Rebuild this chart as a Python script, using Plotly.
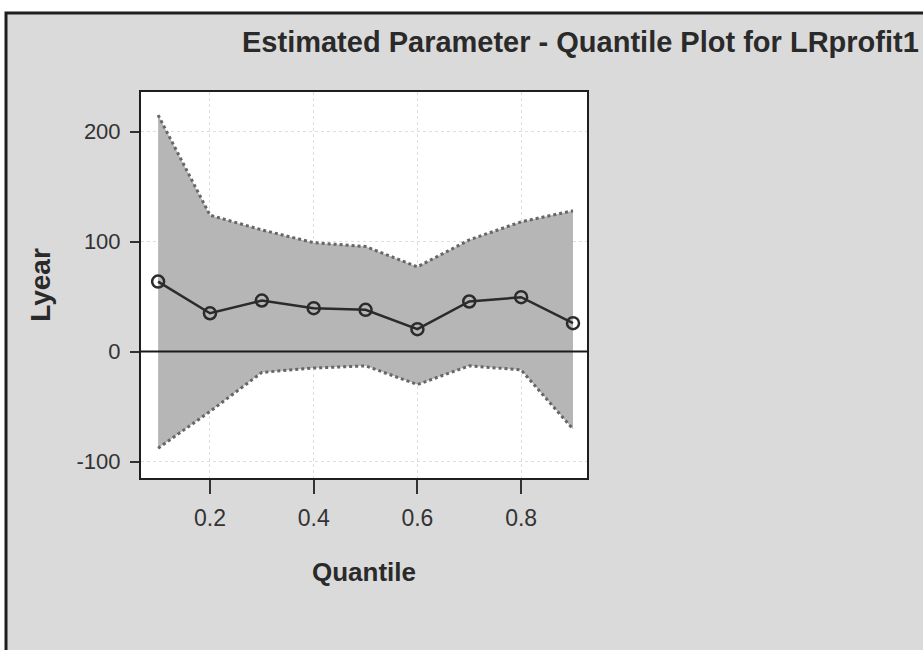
import plotly.graph_objects as go

quantiles = [0.1, 0.2, 0.3, 0.4, 0.5, 0.6, 0.7, 0.8, 0.9]
estimate = [63.6, 34.8, 46.4, 39.4, 37.9, 20.3, 45.5, 49.4, 25.8]
upper = [215, 124, 110.6, 99, 95.5, 77, 101.5, 118, 128]
lower = [-87.9, -54.5, -19, -15, -13, -30, -13, -16.7, -70.6]

x_ticks = [0.2, 0.4, 0.6, 0.8]
x_ticklabels = ["0.2", "0.4", "0.6", "0.8"]
y_ticks = [-100, 0, 100, 200]
y_ticklabels = ["-100", "0", "100", "200"]

title_text = "Estimated Parameter - Quantile Plot for LRprofit1"
x_title = "Quantile"
y_title = "Lyear"

W, H = 923, 650
L, R, T, B = 141, 336, 92, 172
pw, ph = W - L - R, H - T - B

def px_to_paper_x(px):
    return (px - L) / pw

def px_to_paper_y(py):
    return (H - B - py) / ph

FONT = "Liberation Sans, Arial, sans-serif"

fig = go.Figure()

# confidence band
fig.add_trace(go.Scatter(
    x=quantiles, y=upper, mode="lines",
    line=dict(color="#666666", width=3, dash="dot"),
    showlegend=False, hoverinfo="skip"))
fig.add_trace(go.Scatter(
    x=quantiles, y=lower, mode="lines",
    line=dict(color="#666666", width=3, dash="dot"),
    fill="tonexty", fillcolor="#b6b6b6",
    showlegend=False, hoverinfo="skip"))
# estimate
fig.add_trace(go.Scatter(
    x=quantiles, y=estimate, mode="lines+markers",
    line=dict(color="#2b2b2b", width=2.5),
    marker=dict(symbol="circle-open", size=12, color="#2b2b2b", line=dict(width=2.5)),
    showlegend=False))

shapes = [
    # gray panel with black frame
    dict(type="rect", xref="paper", yref="paper", layer="below",
         x0=px_to_paper_x(6), x1=px_to_paper_x(940),
         y0=px_to_paper_y(670), y1=px_to_paper_y(13),
         fillcolor="#dadada", line=dict(color="#1e1e1e", width=3)),
    # white plot area
    dict(type="rect", xref="paper", yref="paper", layer="below",
         x0=0, x1=1, y0=0, y1=1, fillcolor="white", line=dict(width=0)),
    # zero reference line
    dict(type="line", xref="paper", yref="y", x0=0, x1=1, y0=0, y1=0,
         line=dict(color="#1a1a1a", width=2), layer="above"),
]

annotations = [
    dict(text="<b>" + title_text + "</b>", xref="paper", yref="paper",
         x=px_to_paper_x(580), y=px_to_paper_y(42), xanchor="center", yanchor="middle",
         showarrow=False,
         font=dict(family=FONT, size=29, color="#2a2a2a")),
]

fig.update_layout(
    width=W, height=H,
    margin=dict(l=L, r=R, t=T, b=B),
    paper_bgcolor="white", plot_bgcolor="white",
    shapes=shapes, annotations=annotations,
    showlegend=False,
)

fig.update_xaxes(
    range=[0.067, 0.927], tickvals=x_ticks, ticktext=x_ticklabels,
    ticks="outside", ticklen=14, tickwidth=2, tickcolor="#333",
    showline=True, linecolor="#1e1e1e", linewidth=2, mirror=True,
    showgrid=True, gridcolor="#dedede", gridwidth=1, griddash="dot",
    zeroline=False, ticklabelstandoff=4,
    tickfont=dict(family=FONT, size=23, color="#333"),
    title=dict(text="<b>" + x_title + "</b>", standoff=33,
               font=dict(family=FONT, size=26, color="#2a2a2a")),
)
fig.update_yaxes(
    range=[-115, 236], tickvals=y_ticks, ticktext=y_ticklabels,
    ticks="outside", ticklen=9, tickwidth=2, tickcolor="#333",
    showline=True, linecolor="#1e1e1e", linewidth=2, mirror=True,
    showgrid=True, gridcolor="#dedede", gridwidth=1, griddash="dot",
    zeroline=False, ticklabelstandoff=5,
    tickfont=dict(family=FONT, size=22, color="#333"),
    title=dict(text="<b>" + y_title + "</b>", standoff=18,
               font=dict(family=FONT, size=28, color="#2a2a2a")),
)

fig.write_html(
    "out.html",
    config={"displayModeBar": False},
    post_script="document.body.style.margin='0';document.body.style.padding='0';"
                "document.body.style.overflow='hidden';",
)
